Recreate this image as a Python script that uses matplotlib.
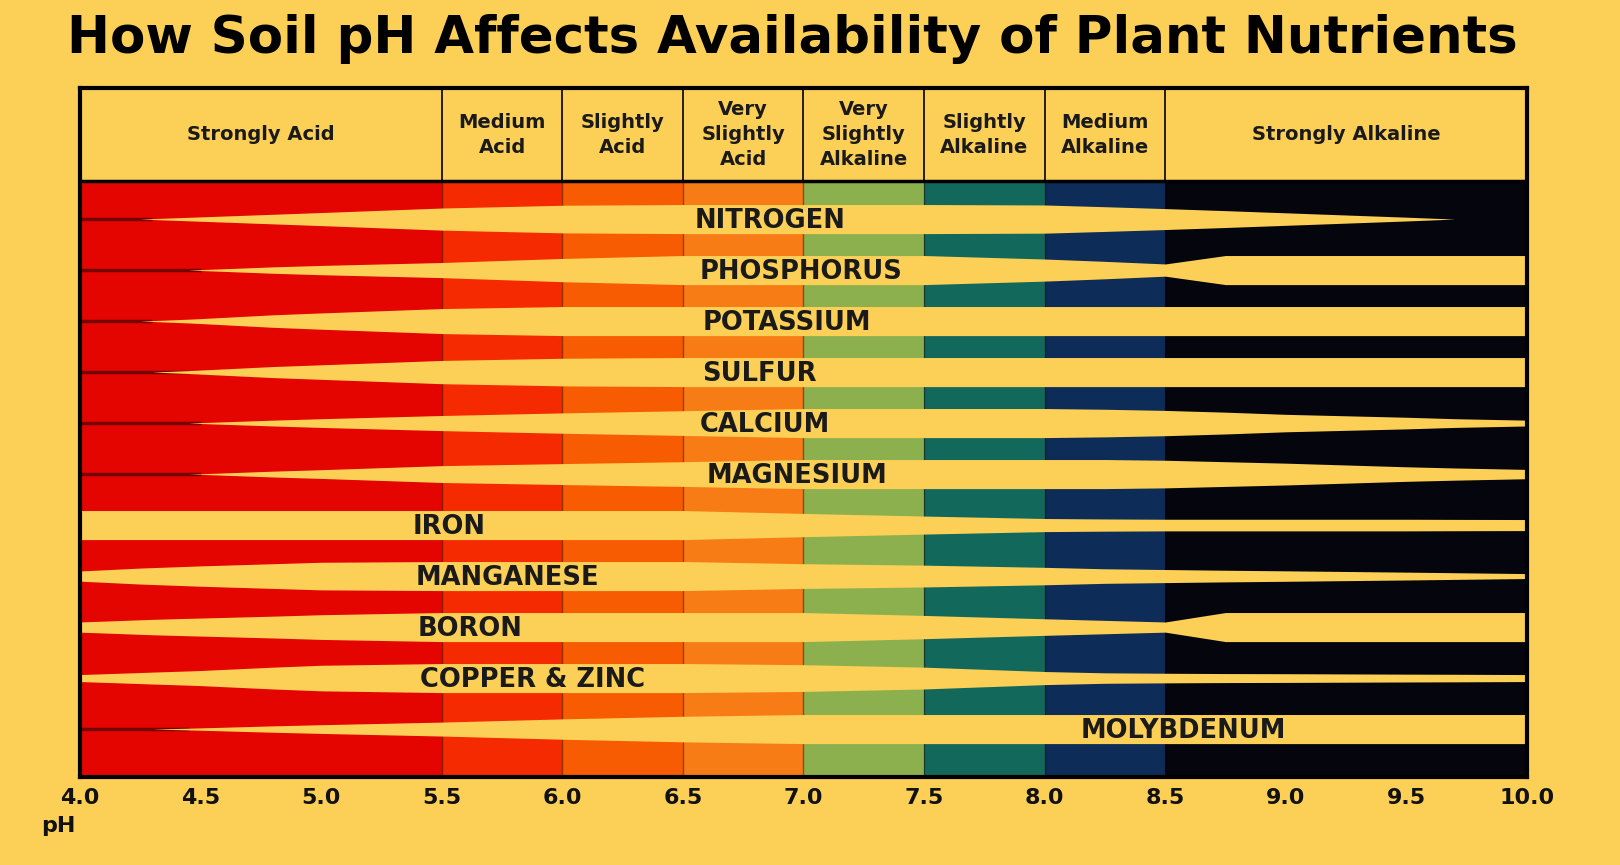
import numpy as np
import matplotlib
matplotlib.use("Agg")
import matplotlib.pyplot as plt

# pH bands (header classes and colours)
band_edges = [4.0, 5.5, 6.0, 6.5, 7.0, 7.5, 8.0, 8.5, 10.0]
band_names = ["Strongly Acid", "Medium\nAcid", "Slightly\nAcid", "Very\nSlightly\nAcid",
              "Very\nSlightly\nAlkaline", "Slightly\nAlkaline", "Medium\nAlkaline", "Strongly Alkaline"]
band_colors = ["#e40400", "#f52a00", "#f75c02", "#f77c16", "#8db04f", "#12695b", "#0d2c58", "#05050e"]

# relative availability (1 = widest band) sampled on a common pH grid
ph_grid = [4.0, 4.25, 4.3, 4.45, 4.5, 4.8, 5.0, 5.5, 6.0, 6.5,
           7.0, 7.5, 8.0, 8.25, 8.5, 8.75, 9.0, 9.5, 9.7, 10.0]
nitrogen    = [0, 0, 0.03, 0.12, 0.15, 0.33, 0.45, 0.76, 0.95, 1,
               1, 1, 0.97, 0.85, 0.72, 0.58, 0.43, 0.13, 0, 0]
phosphorus  = [0, 0, 0, 0, 0.03, 0.22, 0.32, 0.52, 0.8, 1,
               1, 1, 0.76, 0.6, 0.42, 1, 1, 1, 1, 1]
potassium   = [0, 0, 0.03, 0.13, 0.17, 0.43, 0.56, 0.86, 1, 1,
               1, 1, 1, 1, 1, 1, 1, 1, 1, 1]
sulfur      = [0, 0, 0, 0.1, 0.14, 0.38, 0.5, 0.8, 0.95, 1,
               1, 1, 1, 1, 1, 1, 1, 1, 1, 1]
calcium     = [0, 0, 0, 0, 0.03, 0.2, 0.3, 0.52, 0.7, 0.85,
               1, 1, 1, 0.95, 0.87, 0.75, 0.6, 0.4, 0.3, 0.2]
magnesium   = [0, 0, 0, 0, 0.02, 0.2, 0.3, 0.58, 0.72, 0.85,
               1, 1, 1, 1, 0.95, 0.85, 0.75, 0.5, 0.42, 0.32]
iron        = [1, 1, 1, 1, 1, 1, 1, 1, 1, 1,
               0.8, 0.62, 0.45, 0.42, 0.4, 0.4, 0.4, 0.4, 0.39, 0.38]
manganese   = [0.35, 0.55, 0.58, 0.67, 0.7, 0.85, 0.95, 1, 1, 1,
               0.85, 0.75, 0.6, 0.5, 0.45, 0.4, 0.36, 0.27, 0.23, 0.17]
boron       = [0.35, 0.5, 0.53, 0.6, 0.62, 0.75, 0.85, 1, 1, 1,
               1, 0.8, 0.57, 0.46, 0.35, 1, 1, 1, 1, 1]
copper_zinc = [0.24, 0.38, 0.41, 0.49, 0.52, 0.75, 0.88, 1, 1, 1,
               0.92, 0.75, 0.45, 0.36, 0.33, 0.31, 0.3, 0.27, 0.26, 0.24]
molybdenum  = [0, 0, 0, 0.06, 0.08, 0.22, 0.3, 0.48, 0.7, 0.88,
               1, 1, 1, 1, 1, 1, 1, 1, 1, 1]

nutrients = ["NITROGEN", "PHOSPHORUS", "POTASSIUM", "SULFUR", "CALCIUM", "MAGNESIUM",
             "IRON", "MANGANESE", "BORON", "COPPER & ZINC", "MOLYBDENUM"]
availability = [nitrogen, phosphorus, potassium, sulfur, calcium, magnesium,
                iron, manganese, boron, copper_zinc, molybdenum]
# pH where each label starts
label_ph = [6.55, 6.57, 6.58, 6.58, 6.57, 6.6, 5.38, 5.39, 5.4, 5.41, 8.15]

ph_ticks = [4.0, 4.5, 5.0, 5.5, 6.0, 6.5, 7.0, 7.5, 8.0, 8.5, 9.0, 9.5, 10.0]

yellow = "#fcd056"
half_max = 0.285          # half thickness of a fully available band (row pitch = 1)
strip_top, strip_bottom = 0.255, 11.94
header_top = -1.57

fig = plt.figure(figsize=(16.2, 8.65), dpi=100, facecolor=yellow)
ax = fig.add_axes([80 / 1620, 88 / 865, (1527 - 80) / 1620, (777 - 88) / 865])
ax.set_facecolor(yellow)

# coloured pH columns
lefts = np.array(band_edges[:-1])
widths = np.diff(band_edges)
ax.bar(lefts, strip_bottom - strip_top, width=widths, bottom=strip_top, align="edge",
       color=band_colors, linewidth=0, zorder=1)
ax.vlines(band_edges[1:-1], strip_top, strip_bottom, color="#200000", lw=1.0, alpha=0.45, zorder=2)

# nutrient availability bands
grid = np.array(ph_grid)
for i, (name, avail) in enumerate(zip(nutrients, availability)):
    row = i + 1
    avail = np.array(avail)
    half = avail * half_max
    # dark seam where the band has pinched out at the acid end
    if avail[0] == 0:
        tip = grid[np.argmax(avail > 0)]
        ax.plot([4.0, tip], [row, row], color="#5a0400", lw=2.5, alpha=0.8,
                solid_capstyle="butt", zorder=2)
    ax.fill_between(grid, row - half, row + half, color=yellow, linewidth=0, zorder=3)
    ax.text(label_ph[i], row + 0.03, name, fontsize=18.5, fontweight="bold", color="#1a1a1a",
            ha="left", va="center", zorder=4, family="DejaVu Sans")

# header
ax.hlines(strip_top, 4.0, 10.0, color="black", lw=2.5, zorder=5)
ax.vlines(band_edges[1:-1], header_top, strip_top, color="black", lw=1.2, zorder=5)
for x0, x1, name in zip(band_edges[:-1], band_edges[1:], band_names):
    ax.text((x0 + x1) / 2, (header_top + strip_top) / 2, name, ha="center", va="center",
            fontsize=14, fontweight="bold", family="DejaVu Sans",
            linespacing=1.4, color="#1a1a1a", zorder=5)

ax.set_xlim(4.0, 10.0)
ax.set_ylim(strip_bottom, header_top)
for s in ax.spines.values():
    s.set_linewidth(3)
    s.set_color("black")
    s.set_zorder(6)

ax.set_yticks([])
ax.set_xticks(ph_ticks)
ax.set_xticklabels([f"{t:.1f}" for t in ph_ticks], fontsize=16, fontweight="bold",
                   family="DejaVu Sans", color="#111111")
ax.tick_params(axis="x", length=0, pad=8)

fig.text(41 / 1620, 1 - 826 / 865, "pH", fontsize=16, fontweight="bold",
         family="DejaVu Sans", ha="left", va="center", color="#111111")
fig.text(792 / 1620, 1 - 39 / 865, "How Soil pH Affects Availability of Plant Nutrients",
         fontsize=37, fontweight="bold", family="DejaVu Sans",
         ha="center", va="center", color="black")

fig.savefig("out.png", dpi=100, facecolor=yellow)
